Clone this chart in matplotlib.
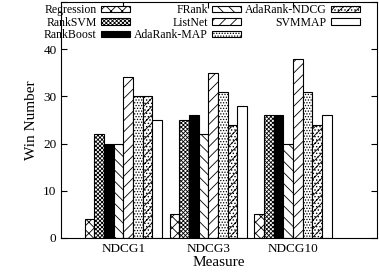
import numpy as np
import matplotlib
matplotlib.use("Agg")
import matplotlib.pyplot as plt

plt.rcParams['font.family'] = ['Liberation Serif', 'DejaVu Serif']
plt.rcParams['hatch.linewidth'] = 0.6

# ---------- Data ----------
measures = ['NDCG1', 'NDCG3', 'NDCG10']
methods = ['Regression', 'RankSVM', 'RankBoost', 'FRank', 'ListNet',
           'AdaRank-MAP', 'AdaRank-NDCG', 'SVMMAP']
wins = {
    'Regression':   [4, 5, 5],
    'RankSVM':      [22, 25, 26],
    'RankBoost':    [20, 26, 26],
    'FRank':        [20, 22, 20],
    'ListNet':      [34, 35, 38],
    'AdaRank-MAP':  [30, 31, 31],
    'AdaRank-NDCG': [30, 24, 24],
    'SVMMAP':       [25, 28, 26],
}

# style per method: (facecolor, hatch)
styles = {
    'Regression':   ('white', 'xxx'),
    'RankSVM':      ('white', 'xxxxxxxx'),
    'RankBoost':    ('black', ''),
    'FRank':        ('white', '\\\\\\'),
    'ListNet':      ('white', '///'),
    'AdaRank-MAP':  ('white', '......'),
    'AdaRank-NDCG': ('white', '////.....'),
    'SVMMAP':       ('white', ''),
}

fig, ax = plt.subplots(figsize=(3.79, 2.72), dpi=100)
fig.subplots_adjust(left=0.162, right=0.995, top=0.993, bottom=0.125)

x = np.arange(1, len(measures) + 1)
w = 0.114
n = len(methods)
for i, m in enumerate(methods):
    fc, h = styles[m]
    ax.bar(x + (i - (n - 1) / 2) * w, wins[m], w, color=fc, hatch=h,
           edgecolor='black', linewidth=0.8, label=m)

ax.set_xlim(0.27, 3.99)
ax.set_ylim(0, 50)
ax.set_yticks([0, 10, 20, 30, 40, 50])
ax.set_yticklabels(['0', '10', '20', '30', '40', ''])
ax.set_xticks(x)
ax.set_xticklabels(measures)
ax.tick_params(direction='in', top=True, right=True, labelsize=9.5, length=4)
ax.set_xlabel('Measure', fontsize=11, labelpad=1)
ax.set_ylabel('Win Number', fontsize=11, labelpad=4)

# markerfirst=False -> labels right-aligned against their swatches
ax.legend(ncol=3, loc='upper center', frameon=False, markerfirst=False,
          fontsize=8.5, handlelength=2.5, handleheight=0.45,
          columnspacing=0.3, labelspacing=0.05, handletextpad=0.35,
          borderaxespad=0.0, borderpad=0.1, bbox_to_anchor=(0.446, 0.995))

plt.savefig('out.png', dpi=100)
